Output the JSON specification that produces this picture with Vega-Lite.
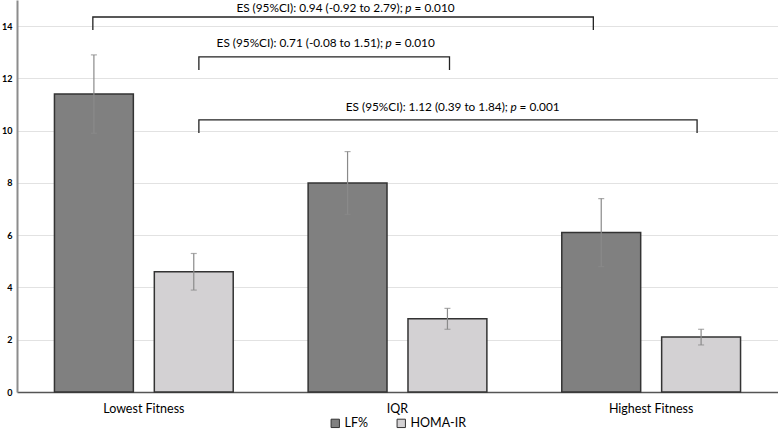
{
  "$schema": "https://vega.github.io/schema/vega-lite/v6.json",
  "width": 761,
  "height": 392,
  "autosize": {"type": "none"},
  "padding": {"left": 17, "top": 0, "right": 0, "bottom": 41},
  "background": "white",
  "config": {"view": {"stroke": null}, "font": "Lato", "legend": {"layout": {"bottom": {"anchor": "middle"}}}},
  "datasets": {
    "bars": [
      {"category": "Lowest Fitness", "series": "LF%", "value": 11.4, "lo": 9.9, "hi": 12.9},
      {"category": "Lowest Fitness", "series": "HOMA-IR", "value": 4.6, "lo": 3.9, "hi": 5.3},
      {"category": "IQR", "series": "LF%", "value": 8.0, "lo": 6.8, "hi": 9.2},
      {"category": "IQR", "series": "HOMA-IR", "value": 2.8, "lo": 2.4, "hi": 3.2},
      {"category": "Highest Fitness", "series": "LF%", "value": 6.1, "lo": 4.8, "hi": 7.4},
      {"category": "Highest Fitness", "series": "HOMA-IR", "value": 2.1, "lo": 1.8, "hi": 2.4}
    ],
    "brackets": [
      {"id": "a", "ord": 1, "pos": 0.299, "val": 13.85},
      {"id": "a", "ord": 2, "pos": 0.299, "val": 14.35},
      {"id": "a", "ord": 3, "pos": 2.272, "val": 14.35},
      {"id": "a", "ord": 4, "pos": 2.272, "val": 13.85},
      {"id": "b", "ord": 1, "pos": 0.717, "val": 12.32},
      {"id": "b", "ord": 2, "pos": 0.717, "val": 12.82},
      {"id": "b", "ord": 3, "pos": 1.705, "val": 12.82},
      {"id": "b", "ord": 4, "pos": 1.705, "val": 12.32},
      {"id": "c", "ord": 1, "pos": 0.717, "val": 9.91},
      {"id": "c", "ord": 2, "pos": 0.717, "val": 10.41},
      {"id": "c", "ord": 3, "pos": 2.681, "val": 10.41},
      {"id": "c", "ord": 4, "pos": 2.681, "val": 9.91}
    ],
    "labels": [
      {"pos": 1.531, "val": 14.54, "head": "ES (95%CI): 0.94 (-0.92 to 2.79);", "p": "p", "tail": "= 0.010"},
      {"pos": 1.453, "val": 13.19, "head": "ES (95%CI): 0.71 (-0.08 to 1.51);", "p": "p", "tail": "= 0.010"},
      {"pos": 1.945, "val": 10.74, "head": "ES (95%CI): 1.12 (0.39 to 1.84);", "p": "p", "tail": "= 0.001"}
    ]
  },
  "layer": [
    {
      "data": {"name": "bars"},
      "encoding": {
        "x": {
          "field": "category",
          "type": "nominal",
          "sort": ["Lowest Fitness", "IQR", "Highest Fitness"],
          "scale": {"paddingInner": 0, "paddingOuter": 0},
          "axis": {
            "title": null,
            "labelAngle": 0,
            "ticks": false,
            "labelPadding": 10,
            "labelFontSize": 12.5,
            "labelColor": "#000",
            "domainColor": "#555",
            "domainWidth": 1.5
          }
        },
        "xOffset": {
          "field": "series",
          "type": "nominal",
          "sort": ["LF%", "HOMA-IR"],
          "scale": {"paddingInner": 0.21, "paddingOuter": 0.375}
        }
      },
      "layer": [
        {
          "mark": {"type": "bar", "stroke": "#333", "strokeWidth": 1.5},
          "encoding": {
            "y": {
              "field": "value",
              "type": "quantitative",
              "scale": {"domain": [0, 15], "nice": false},
              "axis": {
                "title": null,
                "values": [0, 2, 4, 6, 8, 10, 12, 14],
                "format": "d",
                "ticks": false,
                "labelFontWeight": "bold",
                "labelFontSize": 9,
                "labelColor": "#000",
                "labelPadding": 5,
                "domainColor": "#8c8c8c",
                "domainWidth": 2,
                "gridColor": "#e2e2e2",
                "gridWidth": 1
              }
            },
            "color": {
              "field": "series",
              "type": "nominal",
              "sort": ["LF%", "HOMA-IR"],
              "scale": {"domain": ["LF%", "HOMA-IR"], "range": ["#808080", "#d3d1d3"]},
              "legend": {
                "title": null,
                "orient": "bottom",
                "direction": "horizontal",
                "symbolType": "square",
                "symbolSize": 70,
                "symbolStrokeColor": "#333",
                "symbolStrokeWidth": 1,
                "labelFontSize": 12.5,
                "labelOffset": 3,
                "labelColor": "#000",
                "columnPadding": 26,
                "offset": 2
              }
            }
          }
        },
        {
          "mark": {"type": "rule", "color": "#8a8a8a", "strokeWidth": 1.2},
          "encoding": {
            "y": {"field": "lo", "type": "quantitative"},
            "y2": {"field": "hi"}
          }
        },
        {
          "mark": {"type": "tick", "color": "#8a8a8a", "size": 6, "thickness": 1.2},
          "encoding": {"y": {"field": "lo", "type": "quantitative"}}
        },
        {
          "mark": {"type": "tick", "color": "#8a8a8a", "size": 6, "thickness": 1.2},
          "encoding": {"y": {"field": "hi", "type": "quantitative"}}
        }
      ]
    },
    {
      "layer": [
        {
          "data": {"name": "brackets"},
          "mark": {"type": "line", "color": "#222", "strokeWidth": 1.3},
          "encoding": {
            "x": {"field": "pos", "type": "quantitative", "scale": {"domain": [0, 3], "nice": false, "zero": false}, "axis": null},
            "y": {"field": "val", "type": "quantitative"},
            "detail": {"field": "id"},
            "order": {"field": "ord"}
          }
        },
        {
          "data": {"name": "labels"},
          "encoding": {
            "x": {"field": "pos", "type": "quantitative"},
            "y": {"field": "val", "type": "quantitative"}
          },
          "layer": [
            {
              "mark": {"type": "text", "fontSize": 11.8, "color": "#000", "align": "right", "baseline": "alphabetic", "dx": -2.5},
              "encoding": {"text": {"field": "head"}}
            },
            {
              "mark": {"type": "text", "fontSize": 11.8, "color": "#000", "align": "left", "baseline": "alphabetic", "fontStyle": "italic"},
              "encoding": {"text": {"field": "p"}}
            },
            {
              "mark": {"type": "text", "fontSize": 11.8, "color": "#000", "align": "left", "baseline": "alphabetic", "dx": 9.2},
              "encoding": {"text": {"field": "tail"}}
            }
          ]
        }
      ]
    }
  ],
  "resolve": {"scale": {"x": "independent"}}
}
